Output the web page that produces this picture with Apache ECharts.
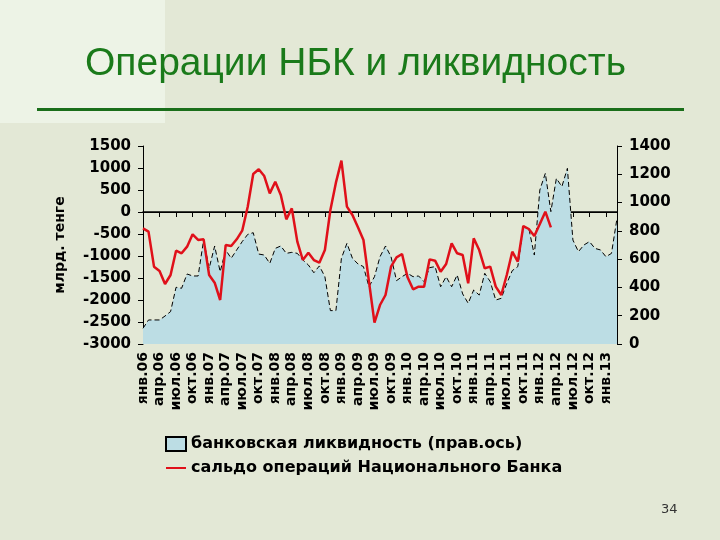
<!DOCTYPE html>
<html><head><meta charset="utf-8">
<script src="https://cdn.jsdelivr.net/npm/echarts@6/dist/echarts.min.js"></script>
<style>html,body{margin:0;padding:0;background:#e3e8d6}#c{width:720px;height:540px}</style>
</head><body><div id="c"></div>
<script>
const monthNames = ['янв','фев','мар','апр','май','июн','июл','авг','сен','окт','ноя','дек'];
const categories = [];
for (let y = 6; y <= 13; y++) for (let m = 0; m < 12; m++) {
  if (categories.length < 87) categories.push(monthNames[m] + '.' + String(y).padStart(2, '0'));
}
const liquidity = [111,170,170,170,198,229,401,394,495,481,481,735,535,693,511,665,606,665,724,775,787,636,629,570,676,693,641,648,641,594,559,504,552,476,236,236,606,712,606,566,547,405,476,617,
693,617,448,476,500,476,481,441,540,547,405,476,405,488,354,288,382,346,500,441,311,323,429,519,547,825,818,629,1089,1207,936,1171,1113,1242,735,653,700,724,676,665,617,641,889];
const nbkBalance = [-371,-447,-1242,-1341,-1636,-1432,-879,-939,-788,-508,-636,-621,-1432,-1606,-2000,-750,-773,-621,-424,121,864,970,818,424,689,386,-167,83,-674,-1091,-924,-1091,-1152,-864,45,667,1167,121,-68,-348,-636,-1583,-2515,-2114,
-1886,-1242,-1030,-955,-1485,-1758,-1697,-1697,-1076,-1106,-1356,-1182,-712,-939,-977,-1621,-598,-864,-1280,-1242,-1697,-1886,-1432,-902,-1129,-318,-386,-545,-273,8,-348];
const seriesNames = ['банковская ликвидность (прав.ось)', 'сальдо операций Национального Банка'];
const leftAxisName = 'млрд. тенге';

const chart = echarts.init(document.getElementById('c'));
const lbl = {color:'#000', fontWeight:'bold', fontSize:15, fontFamily:'DejaVu Sans'};
chart.setOption({
  backgroundColor:'#e3e8d6',
  animation:false,
  graphic:[
    {type:'rect', shape:{x:0,y:0,width:165,height:123}, style:{fill:'#edf3e6'}, z:-10},
    {type:'text', left:85, top:45, style:{text:'Операции НБК и ликвидность', fill:'#1a7a1a', font:'39px "Liberation Sans", Arial, sans-serif'}},
    {type:'rect', shape:{x:37,y:108,width:647,height:3}, style:{fill:'#1a6e1a'}},
    {type:'text', left:661, top:503, style:{text:'34', fill:'#333', font:'13px "DejaVu Sans"'}},
    {type:'text', x:60, y:245, rotation:Math.PI/2, style:{text:leftAxisName, fill:'#000', font:'bold 14px "DejaVu Sans"', align:'center', verticalAlign:'middle'}}
  ],
  legend:{orient:'vertical', left:160, top:431, itemGap:8, itemWidth:20, itemHeight:14,
    textStyle:{color:'#000', fontWeight:'bold', fontSize:16, fontFamily:'DejaVu Sans'},
    data:[{name:seriesNames[0], icon:'rect'},{name:seriesNames[1], icon:'path://M0,6 L20,6 L20,8 L0,8 Z'}]},
  grid:{left:143, right:103, top:146, bottom:196, outerBoundsMode:'none', containLabel:false},
  xAxis:[
    {type:'category', data:categories, boundaryGap:false,
     axisLine:{lineStyle:{color:'#000'}}, axisTick:{show:false},
     axisLabel:{...lbl, fontSize:14, rotate:90, interval:2, margin:8}},
    {type:'category', data:categories, boundaryGap:false, position:'bottom',
     axisLine:{onZero:true, onZeroAxisIndex:0, lineStyle:{color:'#000', width:1.5}},
     axisTick:{show:true, interval:2, length:5, inside:false, lineStyle:{color:'#000'}},
     axisLabel:{show:false}}
  ],
  yAxis:[
    {type:'value', min:-3000, max:1500, interval:500,
     axisLine:{show:true, lineStyle:{color:'#000'}}, axisTick:{show:true, length:5, lineStyle:{color:'#000'}},
     splitLine:{show:false}, axisLabel:{...lbl, margin:12, formatter:v=>String(v)}},
    {type:'value', min:0, max:1400, interval:200,
     axisLine:{show:true, lineStyle:{color:'#000'}}, axisTick:{show:true, length:5, lineStyle:{color:'#000'}},
     splitLine:{show:false}, axisLabel:{...lbl, margin:12, formatter:v=>String(v)}}
  ],
  series:[
    {name:seriesNames[0], type:'line', yAxisIndex:1, data:liquidity, symbol:'none',
     lineStyle:{color:'#000', width:1, type:[5,3]}, areaStyle:{color:'#bcdde4', opacity:1},
     itemStyle:{color:'#bcdde4', borderColor:'#000', borderWidth:1}, z:1},
    {name:seriesNames[1], type:'line', yAxisIndex:0, data:nbkBalance, symbol:'none',
     lineStyle:{color:'#e0101a', width:2.5}, itemStyle:{color:'#e0101a'}, z:3}
  ]
});
</script></body></html>
